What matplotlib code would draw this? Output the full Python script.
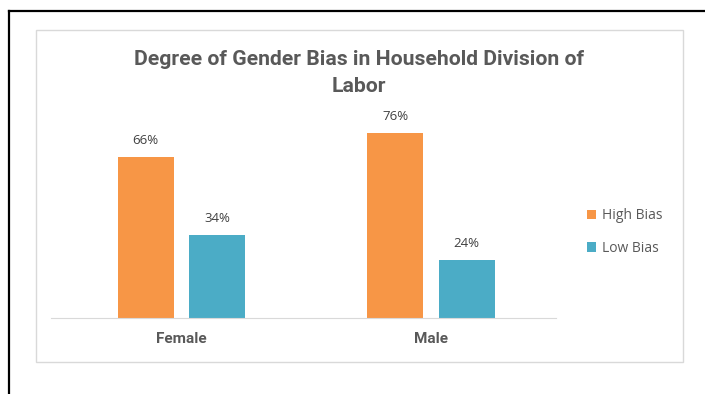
import matplotlib.pyplot as plt
from matplotlib.lines import Line2D
from matplotlib.patches import Rectangle
import numpy as np

categories = ['Female', 'Male']
high_bias = [66, 76]
low_bias = [34, 24]
series_names = ['High Bias', 'Low Bias']

W, H = 705, 394
fig = plt.figure(figsize=(W / 100, H / 100), dpi=100)

title_font = 'Roboto'
body_font = 'Open Sans'

# outer black frame (top and left)
fig.add_artist(Line2D([8.5 / W, 1], [1 - 10.5 / H, 1 - 10.5 / H], color='black', lw=1.6,
                      transform=fig.transFigure))
fig.add_artist(Line2D([8.5 / W, 8.5 / W], [0, 1 - 10.5 / H], color='black', lw=1.6,
                      transform=fig.transFigure))
# light chart border
fig.add_artist(Rectangle((36 / W, 1 - 362 / H), (683 - 36) / W, (362 - 30) / H,
                         fill=False, edgecolor='#d9d9d9', lw=1.0, transform=fig.transFigure))

ax = fig.add_axes([51 / W, 1 - 318 / H, 505 / W, 195 / H])
x = np.arange(len(categories))
bw = 0.2245
off = 0.143
b1 = ax.bar(x - off, high_bias, bw, color='#f79646', label=series_names[0])
b2 = ax.bar(x + off, low_bias, bw, color='#4bacc6', label=series_names[1])

for bars, vals in [(b1, high_bias), (b2, low_bias)]:
    for b, v in zip(bars, vals):
        ax.annotate(f'{v}%', (b.get_x() + b.get_width() / 2, v), xytext=(0, 7),
                    textcoords='offset points', ha='center', va='bottom',
                    fontsize=9.5, color='#404040', family=body_font)

ax.set_xlim(-0.523, 1.501)
ax.set_ylim(0, 80)
ax.set_yticks([])
ax.set_xticks(x)
ax.set_xticklabels(categories, fontsize=11, fontweight='bold', color='#595959',
                   family=title_font)
ax.tick_params(axis='x', length=0, pad=10)
for s in ['top', 'right', 'left']:
    ax.spines[s].set_visible(False)
ax.spines['bottom'].set_color('#d9d9d9')

fig.text(359 / W, 1 - 73 / H, 'Degree of Gender Bias in Household Division of\nLabor',
         ha='center', va='center', fontsize=15.2, fontweight='bold', color='#595959',
         family=title_font, linespacing=1.5)

leg = fig.legend(handles=[b1, b2], loc='center left', bbox_to_anchor=(574 / W, 1 - 232 / H),
                 frameon=False, handlelength=0.7, handleheight=0.7,
                 handletextpad=0.4, labelspacing=1.25, prop={'family': body_font, 'size': 10})
for t in leg.get_texts():
    t.set_color('#595959')

fig.savefig('out.png', dpi=100)
